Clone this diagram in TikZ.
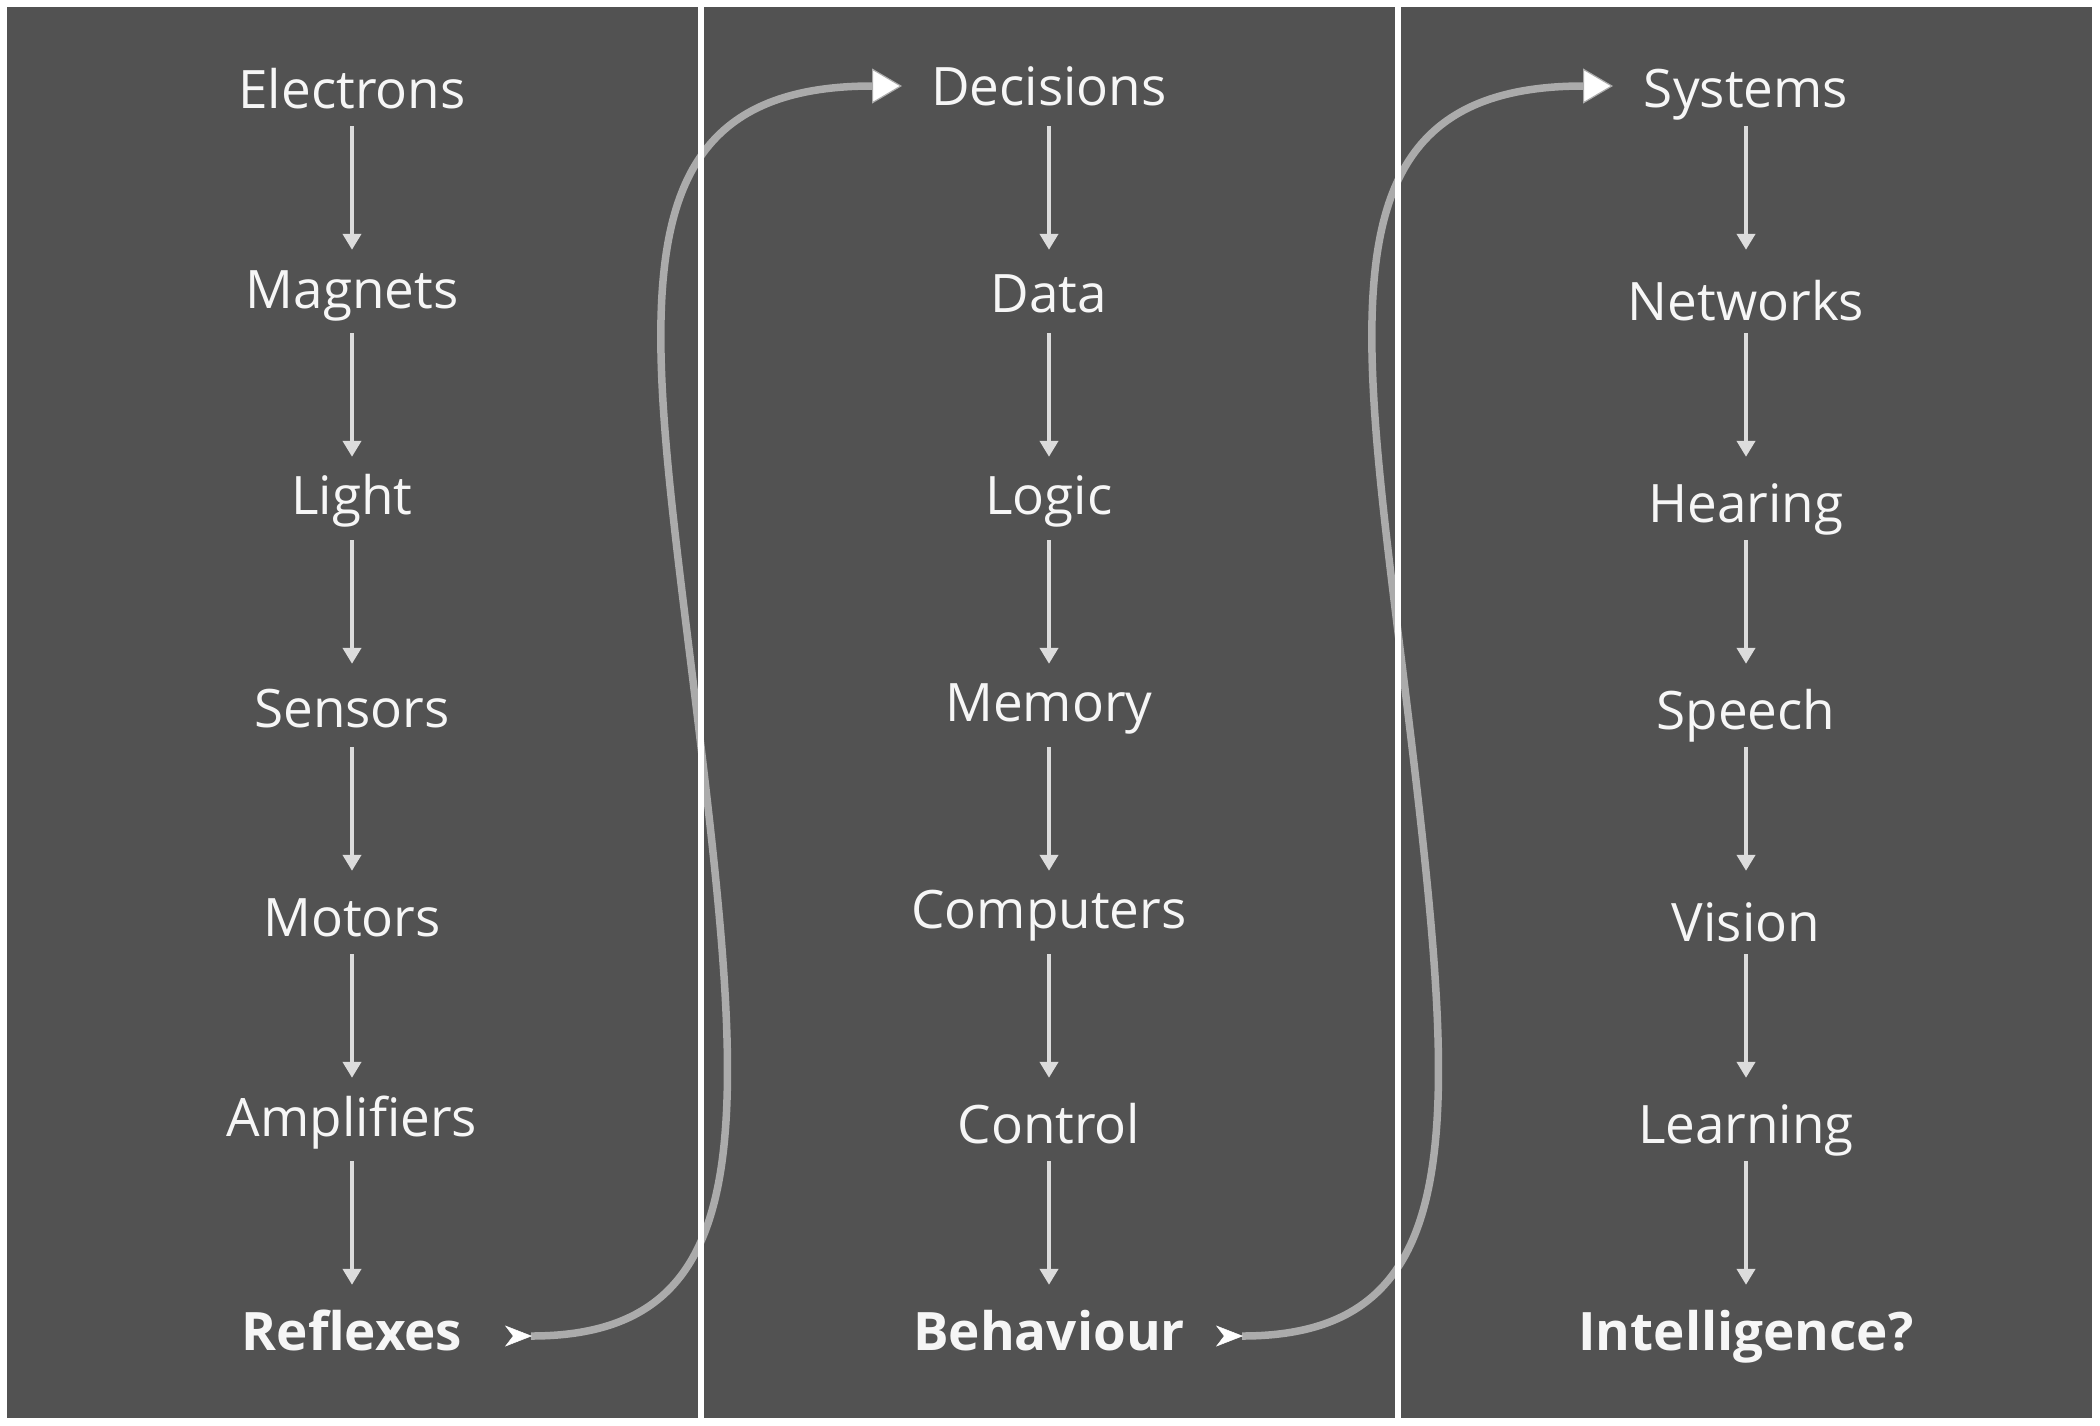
\documentclass[tikz,border=0pt]{standalone}
\usepackage{fontspec}
\setmainfont{Open Sans}
\usetikzlibrary{arrows.meta,calc}
\definecolor{panelgrey}{HTML}{525252}
\definecolor{arrowgrey}{HTML}{DCDCDC}
\definecolor{curvegrey}{HTML}{ABABAB}
\definecolor{textwhite}{HTML}{F6F6F6}
\newcommand{\rs}[2]{\raisebox{#1pt}{#2}}
\begin{document}
\begin{tikzpicture}[x=1pt,y=-1pt,
  lbl/.style={text=textwhite, font=\fontsize{53}{60}\selectfont, inner sep=0pt,
              text height=40pt, text depth=12pt, anchor=base},
  lblb/.style={lbl, font=\fontsize{53}{60}\selectfont\bfseries},
  arr/.style={draw=arrowgrey, line width=4pt, -{Triangle[length=16pt,width=18pt]},
              shorten <=6pt, shorten >=25pt},
  curve/.style={draw=curvegrey, line width=7.5pt,
    {Stealth[reversed,length=27pt,width=21pt,inset=8pt,color=white,fill=white,line width=0.5pt]}-{Triangle[length=30pt,width=35pt,fill=white,line width=1.2pt]}},
  panel/.style={fill=panelgrey, draw=none}]
\useasboundingbox (0,0) rectangle (2100,1425);
\fill[white] (0,0) rectangle (2100,1425);
\path[panel] (7,7) rectangle (698,1418);
\path[panel] (704,7) rectangle (1395,1418);
\path[panel] (1401,7) rectangle (2092,1418);

% column 1
\node[lbl] (c1a) at (352,108) {Electrons};
\node[lbl] (c1b) at (352,315) {\rs{7}{Magnets}};
\node[lbl] (c1c) at (352,522) {\rs{8}{Light}};
\node[lbl] (c1d) at (352,729) {\rs{2}{Sensors}};
\node[lbl] (c1e) at (352,936) {Motors};
\node[lbl] (c1f) at (352,1143) {\rs{7}{Amplifiers}};
\node[lblb] (c1g) at (352,1350) {Reflexes};
% column 2
\node[lbl] (c2a) at (1049,108) {\rs{3}{Decisions}};
\node[lbl] (c2b) at (1049,315) {\rs{3}{Data}};
\node[lbl] (c2c) at (1049,522) {\rs{8}{Logic}};
\node[lbl] (c2d) at (1049,729) {\rs{8}{Memory}};
\node[lbl] (c2e) at (1049,936) {\rs{8}{Computers}};
\node[lbl] (c2f) at (1049,1143) {Control};
\node[lblb] (c2g) at (1049,1350) {Behaviour};
% column 3
\node[lbl] (c3a) at (1746,108) {\rs{1}{Systems}};
\node[lbl] (c3b) at (1746,315) {\rs{-5}{Networks}};
\node[lbl] (c3c) at (1746,522) {Hearing};
\node[lbl] (c3d) at (1746,729) {Speech};
\node[lbl] (c3e) at (1746,936) {\rs{-5}{Vision}};
\node[lbl] (c3f) at (1746,1143) {Learning};
\node[lblb] (c3g) at (1746,1350) {Intelligence?};

\foreach \c in {1,2,3}{
  \draw[arr] (c\c a.south) -- (c\c b.north);
  \draw[arr] (c\c b.south) -- (c\c c.north);
  \draw[arr] (c\c c.south) -- (c\c d.north);
  \draw[arr] (c\c d.south) -- (c\c e.north);
  \draw[arr] (c\c e.south) -- (c\c f.north);
  \draw[arr] (c\c f.south) -- (c\c g.north);
}

% curved connectors
\coordinate (s1) at (505,1336);
\coordinate (m1) at (699,730);
\coordinate (e1) at (902,86);
\coordinate (s2) at (1216,1336);
\coordinate (m2) at (1410,730);
\coordinate (e2) at (1613,86);
\draw[curve] (s1) .. controls (759,1336) and (747,1130) .. (m1)
  .. controls (651,330) and (600,86) .. (e1);
\draw[curve] (s2) .. controls (1470,1336) and (1458,1130) .. (m2)
  .. controls (1362,330) and (1311,86) .. (e2);

% dividers over the curves
\fill[white] (698,0) rectangle (704,1425);
\fill[white] (1395,0) rectangle (1401,1425);
\end{tikzpicture}
\end{document}
